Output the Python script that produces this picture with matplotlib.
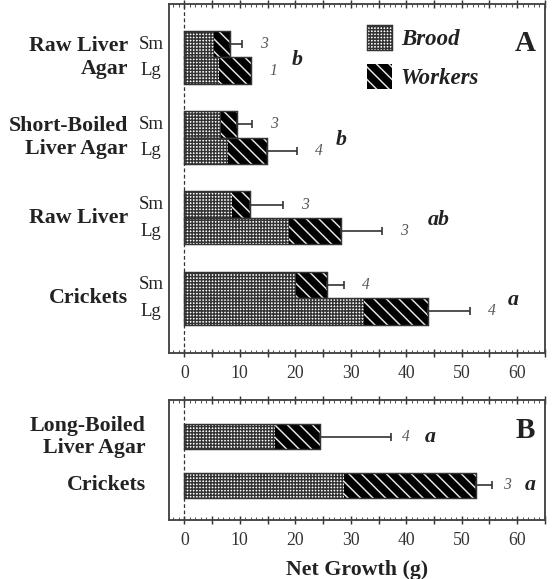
import matplotlib
matplotlib.use("Agg")
import matplotlib.pyplot as plt
import numpy as np
from matplotlib.patches import Patch
from matplotlib.ticker import MultipleLocator

plt.rcParams["font.family"] = ["Liberation Serif", "DejaVu Serif"]
plt.rcParams["hatch.linewidth"] = 0.7

# ---- panel A data (top to bottom: groups, each with Sm and Lg colonies) ----
groups_a = ["Raw Liver\nAgar", "Short-Boiled\nLiver Agar", "Raw Liver", "Crickets"]
sizes = ["Sm", "Lg"]
brood_a = np.array([[5.4, 6.25], [6.7, 7.9], [8.6, 18.9], [20.1, 32.3]])
workers_a = np.array([[2.9, 5.75], [2.85, 6.95], [3.3, 9.3], [5.7, 11.6]])
err_a = np.array([[2.1, np.nan], [2.7, 5.4], [5.9, 7.4], [2.9, 7.6]])
n_a = [["3", "1"], ["3", "4"], ["3", "3"], ["4", "4"]]
letters_a = ["b", "b", "ab", "a"]

# ---- panel B data ----
groups_b = ["Long-Boiled\nLiver Agar", "Crickets"]
brood_b = np.array([16.4, 28.7])
workers_b = np.array([8.0, 23.8])
err_b = np.array([12.8, 3.0])
n_b = ["4", "3"]
letters_b = ["a", "a"]

DARK = "#222222"
GREY = "#555555"
HATCH_BROOD = "++++++++"
HATCH_WORK = "\\\\\\\\"


def stacked(ax, y, brood, workers, err, height):
    ax.barh(y, brood, height, color="white", edgecolor="#333333", hatch=HATCH_BROOD, lw=0)
    ax.barh(y, workers, height, left=brood, color="black", edgecolor="#e8e8e8",
            hatch=HATCH_WORK, lw=0)
    total = brood + workers
    ax.barh(y, total, height, fill=False, edgecolor="#333333", lw=0.7)
    ok = ~np.isnan(err)
    ax.errorbar(total[ok], y[ok], xerr=[np.zeros(ok.sum()), err[ok]], fmt="none",
                ecolor="#333333", elinewidth=0.8, capsize=2, capthick=0.8)
    return total, np.where(ok, total + np.nan_to_num(err), total)


def style_axis(ax):
    ax.set_xlim(-2.7, 64.4)
    ax.xaxis.set_minor_locator(MultipleLocator(1))
    ax.set_xticks(np.arange(0, 66, 5))
    ax.set_xticklabels([str(v) if v % 10 == 0 else "" for v in np.arange(0, 66, 5)])
    ax.tick_params(axis="x", which="major", direction="inout", length=4, width=0.7,
                   top=True, labelsize=8.5, labelcolor="#333333", color="#333333", pad=4)
    ax.tick_params(axis="x", which="minor", direction="in", length=1.4, width=0.5,
                   top=True, color="#555555")
    ax.set_yticks([])
    for s in ax.spines.values():
        s.set_color("#444444")
        s.set_linewidth(0.9)
    ax.axvline(0, color="#333333", lw=0.6, ls=(0, (3, 2)), zorder=0)


fig = plt.figure(figsize=(3.68, 3.86), dpi=150)
ax_a = fig.add_axes([0.3067, 0.3909, 0.6806, 0.6022])
ax_b = fig.add_axes([0.3067, 0.1019, 0.6806, 0.2073])

# panel A
h = 0.33
pos = np.arange(len(groups_a))
for k, off in enumerate([-h / 2, h / 2]):
    y = pos + off
    total, end = stacked(ax_a, y, brood_a[:, k], workers_a[:, k], err_a[:, k], h)
    for yi, xe, n in zip(y, end, [r[k] for r in n_a]):
        ax_a.text(xe + 4, yi, n, ha="center", va="center", fontsize=7.5,
                  style="italic", color=GREY)
letter_x_a = [20.3, 28.3, 45.8, 59.2]
for yi, xl, lt in zip(pos, letter_x_a, letters_a):
    ax_a.text(xl, yi + 0.03, lt, ha="center", va="center", fontsize=10.5,
              style="italic", weight="bold", color=DARK)
ax_a.set_ylim(3.68, -0.664)
style_axis(ax_a)

tr = ax_a.get_yaxis_transform()
for yi, g in zip(pos, groups_a):
    ax_a.text(-0.11, yi, g, transform=tr, ha="right", va="center", ma="right",
              fontsize=10.5, weight="bold", color=DARK, linespacing=1.2)
    for off, s in zip([-h / 2, h / 2], sizes):
        ax_a.text(-0.049, yi + off, s, transform=tr, ha="center", va="center",
                  fontsize=9, color=DARK)

ax_a.text(0.947, 0.888, "A", transform=ax_a.transAxes, ha="center", va="center",
          fontsize=14, weight="bold", color=DARK)
handles = [Patch(facecolor="white", edgecolor="#333333", hatch=HATCH_BROOD, lw=0.7),
           Patch(facecolor="black", edgecolor="#e8e8e8", hatch=HATCH_WORK, lw=0)]
leg = ax_a.legend(handles, ["Brood", "Workers"], loc="upper left",
                  bbox_to_anchor=(0.525, 0.94), frameon=False, borderpad=0,
                  borderaxespad=0, handlelength=1.1, handleheight=1.3,
                  handletextpad=0.4, labelspacing=0.62,
                  prop={"size": 11, "weight": "bold", "style": "italic"})
for t in leg.get_texts():
    t.set_color(DARK)

# panel B
hb = 0.52
pos_b = np.arange(len(groups_b))
total_b, end_b = stacked(ax_b, pos_b, brood_b, workers_b, err_b, hb)
for yi, xe, n in zip(pos_b, end_b, n_b):
    ax_b.text(xe + 2.7, yi, n, ha="center", va="center", fontsize=7.5,
              style="italic", color=GREY)
letter_x_b = [44.4, 62.3]
for yi, xl, lt in zip(pos_b, letter_x_b, letters_b):
    ax_b.text(xl, yi, lt, ha="center", va="center", fontsize=10.5,
              style="italic", weight="bold", color=DARK)
ax_b.set_ylim(1.72, -0.76)
style_axis(ax_b)
trb = ax_b.get_yaxis_transform()
for yi, g in zip(pos_b, groups_b):
    ax_b.text(-0.063, yi, g, transform=trb, ha="right", va="center", ma="right",
              fontsize=10.5, weight="bold", color=DARK, linespacing=1.15)
ax_b.text(0.947, 0.745, "B", transform=ax_b.transAxes, ha="center", va="center",
          fontsize=14, weight="bold", color=DARK)
ax_b.set_xlabel("Net Growth (g)", fontsize=10.5, weight="bold", color=DARK, labelpad=5)

fig.savefig("out.png", dpi=150)
